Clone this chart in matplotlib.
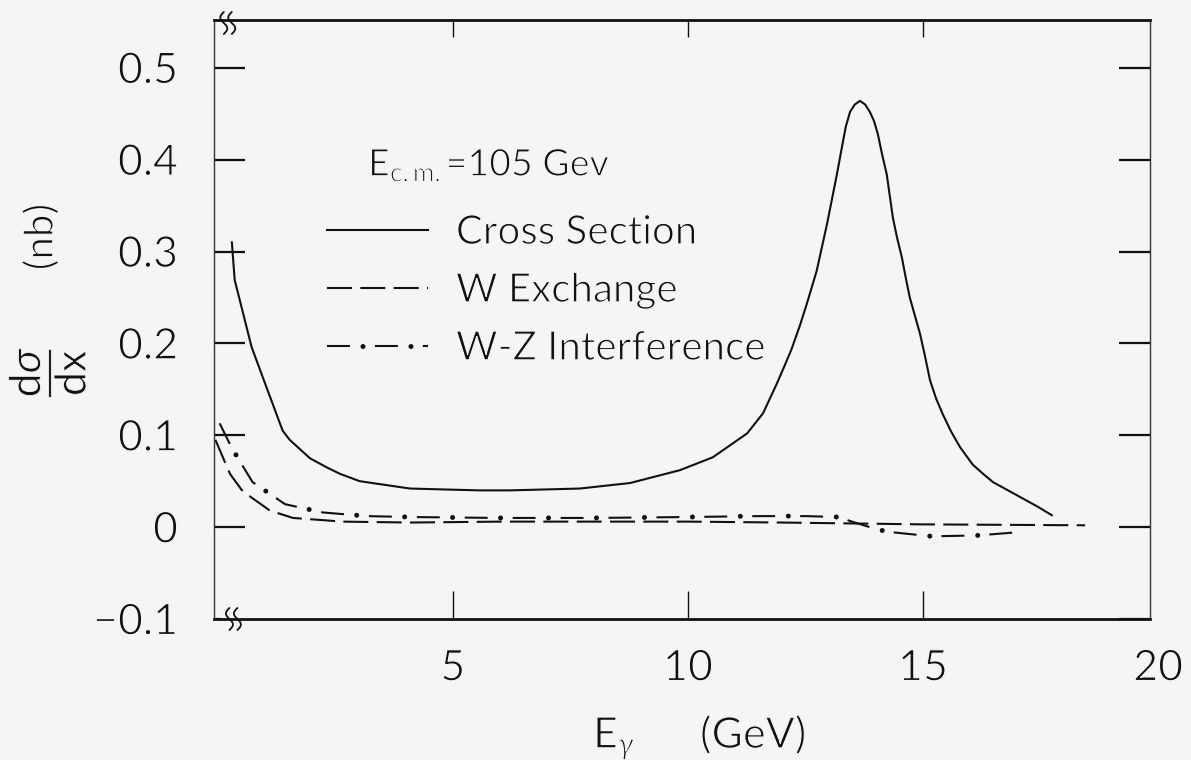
import numpy as np
import matplotlib
matplotlib.use("Agg")
import matplotlib.pyplot as plt
from matplotlib import patheffects
from matplotlib.legend_handler import HandlerTuple
from matplotlib.transforms import ScaledTranslation

plt.rcParams["font.family"] = ["Lato", "DejaVu Sans"]
plt.rcParams["font.weight"] = "normal"
plt.rcParams["text.color"] = "#111111"
plt.rcParams["xtick.color"] = "#111111"
plt.rcParams["ytick.color"] = "#111111"
plt.rcParams["mathtext.fontset"] = "custom"
plt.rcParams["mathtext.rm"] = "Lato"
plt.rcParams["mathtext.it"] = "Lato:italic"
plt.rcParams["mathtext.bf"] = "Lato:bold"

# ---- data: photon energy (GeV) vs d(sigma)/dx (nb) ----
x_cross = [0.30, 0.36, 0.72, 1.06, 1.38, 1.53, 1.96, 2.32, 2.60, 3.02, 4.09,
           5.57, 6.21, 7.70, 8.77, 9.83, 10.53, 11.26, 11.60, 11.89, 12.06,
           12.20, 12.38, 12.53, 12.74, 12.96, 13.17, 13.30, 13.36, 13.45,
           13.55, 13.66, 13.77, 13.87, 13.96, 14.04, 14.13, 14.23, 14.36,
           14.45, 14.55, 14.64, 14.72, 14.94, 15.04, 15.15, 15.28, 15.43,
           15.60, 15.79, 16.06, 16.28, 16.49, 16.81, 17.13, 17.45, 17.74]
y_cross = [0.310, 0.269, 0.196, 0.149, 0.105, 0.095, 0.075, 0.065, 0.058,
           0.050, 0.042, 0.040, 0.040, 0.042, 0.048, 0.062, 0.076, 0.102,
           0.124, 0.156, 0.176, 0.193, 0.219, 0.243, 0.279, 0.330, 0.384,
           0.420, 0.436, 0.452, 0.460, 0.464, 0.460, 0.452, 0.442, 0.428,
           0.406, 0.384, 0.337, 0.315, 0.294, 0.270, 0.250, 0.210, 0.187,
           0.160, 0.140, 0.122, 0.104, 0.087, 0.068, 0.058, 0.049, 0.040,
           0.031, 0.022, 0.013]

x_wex = [-0.05, 0.26, 0.53, 1.11, 1.60, 2.66, 4.09, 6.0, 8.0, 10.0, 12.0,
         13.5, 15.0, 18.45]
y_wex = [0.095, 0.058, 0.039, 0.018, 0.010, 0.006, 0.005, 0.006, 0.006,
         0.006, 0.005, 0.004, 0.003, 0.002]

x_wz = [0.04, 0.30, 0.74, 1.43, 2.23, 3.17, 4.09, 6.0, 8.0, 10.0, 11.5,
        12.5, 13.2, 13.49, 13.87, 14.23, 15.19, 16.17, 16.91]
y_wz = [0.113, 0.086, 0.049, 0.025, 0.016, 0.012, 0.011, 0.010, 0.010,
        0.011, 0.012, 0.012, 0.011, 0.006, 0.0, -0.005, -0.010, -0.009,
        -0.006]

series_labels = ["Cross Section", "W Exchange", "W-Z Interference"]
x_ticks = [5, 10, 15]
x_tick_labels = ["5", "10", "15"]
y_ticks = [-0.1, 0.0, 0.1, 0.2, 0.3, 0.4, 0.5]
y_tick_labels = ["\u22120.1", "0", "0.1", "0.2", "0.3", "0.4", "0.5"]

BG = "#f5f5f5"
INK = "#111111"
W, H = 1191, 760
# thin pen look for the lettering
THIN = [patheffects.Stroke(linewidth=0.9, foreground=BG)]
THIN_MATH = [patheffects.Stroke(linewidth=0.6, foreground=BG)]

fig = plt.figure(figsize=(W / 100, H / 100), dpi=100, facecolor=BG)
ax = fig.add_axes([214 / W, 1 - 619 / H, 936 / W, 599 / H], facecolor=BG)
ax.set_xlim(-0.08, 19.83)
ax.set_ylim(-0.1, 0.552)

lw = 1.5
h_cross, = ax.plot(x_cross, y_cross, color=INK, lw=lw, solid_joinstyle="round")
h_wex, = ax.plot(x_wex, y_wex, color=INK, lw=lw, dashes=(12, 4))
# dash-dot: thin dashes plus heavier round dots placed in the gaps
period = 11 + 4 + 4 + 4          # in units of lw
h_wz, = ax.plot(x_wz, y_wz, color=INK, lw=lw, dashes=(11, 12),
                dash_capstyle="butt")
dot_lw = 3.6
dot_pos = (11 + 4 + 2) * lw      # points along the pattern
h_dots, = ax.plot(x_wz, y_wz, color=INK, lw=dot_lw, dash_capstyle="round",
                  linestyle=((period * lw - dot_pos) / dot_lw,
                             (0.01, period * lw / dot_lw)))

# frame
for side in ("top", "bottom"):
    ax.spines[side].set_linewidth(2.0)
    ax.spines[side].set_color(INK)
for side in ("left", "right"):
    ax.spines[side].set_linewidth(1.0)
    ax.spines[side].set_color("#333333")
    ax.spines[side].set_linestyle((0, (4, 1)))

# ticks
ax.set_yticks(y_ticks)
ax.set_yticklabels(y_tick_labels)
ax.set_xticks(x_ticks)
ax.set_xticklabels(x_tick_labels)
ax.tick_params(axis="y", which="major", direction="in", length=22, width=1.6,
               color=INK, left=True, right=True, labelsize=31, pad=26)
ax.tick_params(axis="x", which="major", direction="in", length=20, width=1.0,
               color=INK, top=True, bottom=True, labelsize=31, pad=22)
for i, tk in enumerate(ax.xaxis.get_major_ticks()):
    tk.tick2line.set_color("#bbbbbb")
    tk.tick2line.set_markersize(12)
    if i > 0:
        tk.tick1line.set_color("#999999")
        tk.tick1line.set_linestyle(":")
for lab in ax.get_xticklabels() + ax.get_yticklabels():
    lab.set_path_effects(THIN)
ax.text(20, 0, "20", fontsize=31, ha="center", va="top", clip_on=False,
        path_effects=THIN,
        transform=ax.get_xaxis_transform()
        + ScaledTranslation(0, -22 / 72, fig.dpi_scale_trans))

# axis breaks on the left corners
t = np.linspace(-1, 1, 40)


def squiggle(xc, yc):
    dx = 3.5 / 936 * np.sin(np.pi * t)
    dy = 11 / 599 * t
    ax.plot(xc - dx, yc + dy, color=INK, lw=1.3, transform=ax.transAxes,
            clip_on=False, solid_capstyle="round")


ax.plot([0.005, 0.024], [1, 1], color=BG, lw=4, transform=ax.transAxes,
        clip_on=False)
squiggle(0.0105, 0.995)
squiggle(0.0190, 0.995)
ax.plot([0.011, 0.030], [0, 0], color=BG, lw=4, transform=ax.transAxes,
        clip_on=False)
squiggle(0.0165, 0.0)
squiggle(0.0250, 0.0)
ax.plot([0, 0], [-0.004, -0.033], color=BG, lw=3, clip_on=False)

# legend
leg = ax.legend([h_cross, h_wex, (h_wz, h_dots)], series_labels,
                handler_map={tuple: HandlerTuple(ndivide=1, pad=0)},
                loc="upper left",
                bbox_to_anchor=((327 - 214) / 936, 1 - (214 - 20) / 599),
                frameon=False, fontsize=29, handlelength=2.5,
                handletextpad=0.7, labelspacing=0.52, borderpad=0,
                borderaxespad=0)
for txt in leg.get_texts():
    txt.set_path_effects(THIN)

ax.text((368 - 214) / 936, 1 - (165 - 20) / 599, r"E$_{\mathrm{c.m.}}$=105 Gev",
        transform=ax.transAxes, fontsize=27, ha="left", va="center",
        path_effects=THIN)

# axis titles
fig.text(48 / W, 1 - 372 / H, r"$\dfrac{\mathrm{d}\sigma}{\mathrm{dx}}$",
         rotation=90, fontsize=31, ha="center", va="center",
         path_effects=THIN_MATH)
fig.text(41 / W, 1 - 237 / H, "(nb)", rotation=90, fontsize=29,
         ha="center", va="center", path_effects=THIN)
fig.text(593 / W, 1 - 748 / H, r"E$_{\gamma}$", fontsize=31, ha="left",
         va="baseline", path_effects=THIN)
fig.text(700 / W, 1 - 748 / H, "(GeV)", fontsize=31, ha="left",
         va="baseline", path_effects=THIN)

fig.savefig("out.png", dpi=100, facecolor=BG)
